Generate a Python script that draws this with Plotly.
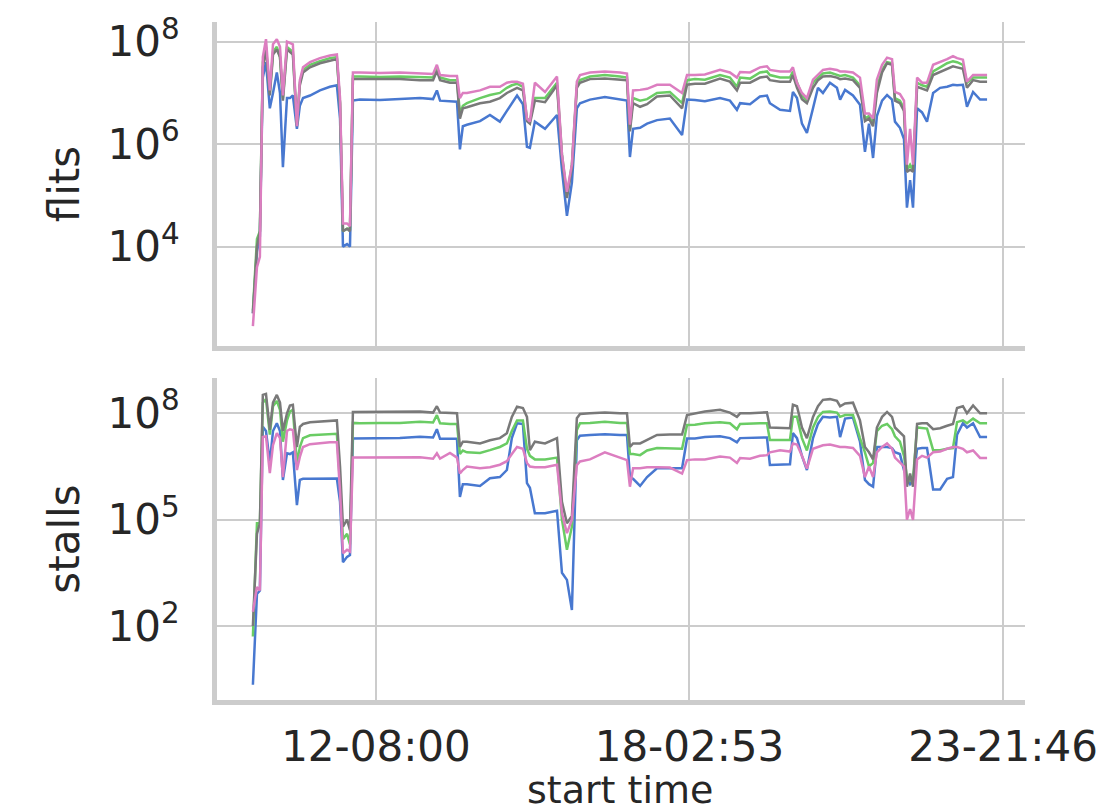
import pandas as pd
import plotly.graph_objects as go

# time axis: hours relative to 12-08:00
base_time = "2021-03-12 08:00"
hours = [-54.5, -52.7, -51.4, -50.1, -48.7, -47.0, -45.6, -43.9, -42.5, -41.2,
         -39.4, -38.1, -36.8, -35.0, -33.7, -32.3, -29.2, -24.8, -20.4, -17.3,
         -15.9, -14.6, -12.8, -11.5, -10.2, -7.1, 1.8, 10.6, 19.5, 25.3,
         27.0, 28.4, 32.8, 35.9, 37.2, 38.5, 40.3, 46.1, 50.5, 54.9,
         58.0, 60.2, 62.5, 65.1, 66.9, 68.2, 70.4, 74.9, 80.2, 82.4,
         84.6, 86.8, 89.0, 90.4, 94.8, 101.4, 108.1, 111.2, 112.5, 113.9,
         117.0, 120.1, 124.5, 130.2, 135.6, 137.8, 141.3, 145.7, 152.4, 156.8,
         159.9, 161.3, 165.7, 170.1, 173.2, 174.5, 179.0, 183.4, 184.7, 186.5,
         188.7, 190.9, 193.6, 195.8, 198.0, 201.1, 204.2, 205.6, 207.8, 211.3,
         214.4, 216.6, 218.4, 220.2, 221.9, 224.2, 226.4, 228.6, 229.9, 232.1,
         233.9, 235.2, 236.6, 237.9, 239.7, 241.9, 244.1, 246.8, 249.9, 253.0,
         255.6, 257.4, 260.0, 261.8, 264.5, 267.6, 270.7]

# values, stored as log10
flits_blue_log10 = [2.7, 3.9, 4.2, 7.3, 7.6, 6.7, 7.0, 7.4, 7.0, 5.55,
                    6.9, 6.9, 6.95, 6.3, 6.75, 6.9, 6.95, 7.05, 7.12, 7.15,
                    6.5, 4.0, 4.05, 4.0, 6.85, 6.87, 6.86, 6.88, 6.9, 6.88,
                    7.05, 6.85, 6.83, 6.83, 5.9, 6.35, 6.38, 6.45, 6.57, 6.44,
                    6.65, 6.8, 6.95, 6.78, 5.95, 5.93, 6.44, 6.3, 6.57, 5.5,
                    4.6, 5.25, 6.7, 6.8, 6.87, 6.92, 6.87, 6.85, 5.75, 6.3,
                    6.32, 6.4, 6.47, 6.5, 6.18, 6.87, 6.86, 6.84, 6.9, 6.85,
                    6.67, 6.8, 6.78, 6.93, 6.95, 6.8, 6.67, 6.65, 7.02, 6.9,
                    6.4, 6.22, 6.7, 7.1, 7.0, 7.2, 7.1, 6.87, 7.06, 6.95,
                    6.77, 5.85, 6.4, 5.73, 6.55, 6.85, 6.96, 6.87, 6.44, 6.32,
                    6.1, 4.76, 5.3, 4.76, 6.7, 6.62, 6.44, 7.0, 7.1, 7.12,
                    7.16, 7.15, 7.16, 6.73, 7.02, 6.87, 6.87]
flits_green_log10 = [2.75, 4.15, 4.3, 7.6, 7.9, 7.0, 7.8, 7.9, 7.7, 6.9,
                     7.9, 7.85, 7.8, 6.4, 7.2, 7.45, 7.55, 7.62, 7.68, 7.7,
                     6.8, 4.3, 4.35, 4.35, 7.32, 7.32, 7.31, 7.32, 7.3, 7.3,
                     7.48, 7.3, 7.25, 7.25, 6.6, 6.75, 6.8, 6.9, 6.96, 7.0,
                     7.1, 7.15, 7.18, 7.12, 6.5, 6.45, 6.9, 6.9, 7.2, 5.8,
                     5.0, 5.6, 7.15, 7.25, 7.32, 7.35, 7.32, 7.3, 6.3, 6.9,
                     6.85, 6.88, 7.0, 7.02, 6.8, 7.25, 7.27, 7.26, 7.35, 7.3,
                     7.12, 7.3, 7.28, 7.4, 7.42, 7.35, 7.3, 7.3, 7.42, 7.2,
                     6.95, 6.85, 7.2, 7.3, 7.38, 7.4, 7.36, 7.33, 7.35, 7.3,
                     7.15, 6.5, 6.55, 6.4, 7.1, 7.45, 7.6, 7.58, 6.9, 6.85,
                     6.7, 5.5, 5.6, 5.5, 7.2, 7.15, 7.12, 7.42, 7.5, 7.58,
                     7.62, 7.6, 7.55, 7.2, 7.3, 7.3, 7.3]
flits_gray_log10 = [2.7, 4.0, 4.3, 7.5, 7.85, 6.95, 7.75, 7.85, 7.7, 6.85,
                    7.85, 7.8, 7.75, 6.35, 7.15, 7.4, 7.5, 7.58, 7.63, 7.66,
                    6.8, 4.3, 4.35, 4.3, 7.27, 7.27, 7.26, 7.27, 7.25, 7.25,
                    7.43, 7.25, 7.2, 7.2, 6.5, 6.7, 6.72, 6.8, 6.83, 6.9,
                    7.0, 7.05, 7.1, 7.05, 6.45, 6.4, 6.85, 6.82, 7.15, 5.75,
                    4.95, 5.55, 7.1, 7.2, 7.27, 7.28, 7.26, 7.25, 6.25, 6.8,
                    6.73, 6.78, 6.93, 6.95, 6.7, 7.16, 7.18, 7.18, 7.28, 7.22,
                    7.05, 7.2, 7.2, 7.3, 7.32, 7.25, 7.22, 7.22, 7.35, 7.1,
                    6.88, 6.8, 7.1, 7.25, 7.32, 7.33, 7.3, 7.27, 7.28, 7.25,
                    7.1, 6.45, 6.5, 6.35, 7.0, 7.4, 7.58, 7.55, 6.85, 6.8,
                    6.65, 5.46, 5.5, 5.46, 7.12, 7.08, 7.05, 7.35, 7.41, 7.48,
                    7.52, 7.5, 7.47, 7.1, 7.25, 7.22, 7.22]
flits_pink_log10 = [2.45, 3.6, 3.8, 7.7, 8.05, 7.05, 7.95, 8.05, 7.9, 6.95,
                    8.0, 7.98, 7.95, 6.35, 7.25, 7.5, 7.6, 7.68, 7.73, 7.75,
                    6.9, 4.45, 4.45, 4.4, 7.4, 7.4, 7.39, 7.4, 7.38, 7.37,
                    7.55, 7.35, 7.33, 7.33, 6.9, 7.0, 7.0, 7.05, 7.12, 7.12,
                    7.2, 7.22, 7.22, 7.18, 6.5, 6.44, 7.2, 7.02, 7.32, 5.8,
                    5.07, 5.6, 7.22, 7.35, 7.4, 7.42, 7.4, 7.38, 6.38, 7.05,
                    7.06, 7.08, 7.16, 7.16, 7.0, 7.35, 7.35, 7.36, 7.45, 7.4,
                    7.3, 7.41, 7.4, 7.5, 7.52, 7.45, 7.42, 7.42, 7.5, 7.2,
                    7.0, 6.9, 7.26, 7.35, 7.45, 7.47, 7.45, 7.42, 7.42, 7.4,
                    7.3, 6.6, 6.6, 6.5, 7.26, 7.55, 7.69, 7.66, 7.02, 6.98,
                    6.85, 5.6, 6.3, 5.6, 7.3, 7.2, 7.2, 7.55, 7.6, 7.66,
                    7.72, 7.68, 7.65, 7.22, 7.35, 7.35, 7.35]

stalls_blue_log10 = [0.34, 2.9, 3.0, 7.62, 7.5, 6.6, 7.5, 7.72, 7.5, 6.12,
                     6.87, 6.85, 6.9, 5.41, 6.12, 6.15, 6.15, 6.16, 6.16, 6.16,
                     5.5, 3.8, 3.95, 4.0, 7.29, 7.29, 7.3, 7.3, 7.34, 7.32,
                     7.55, 7.28, 7.28, 7.28, 5.64, 6.0, 6.0, 5.95, 6.17, 6.2,
                     6.4, 7.3, 7.72, 7.7, 6.03, 5.9, 5.18, 5.18, 5.25, 3.5,
                     3.3, 2.45, 7.24, 7.37, 7.39, 7.41, 7.39, 7.39, 6.2, 6.15,
                     5.95, 6.2, 6.45, 6.46, 6.45, 7.29, 7.29, 7.33, 7.35, 7.3,
                     7.18, 7.3, 7.3, 7.32, 7.32, 6.54, 6.55, 6.56, 7.44, 7.3,
                     6.8, 6.4, 7.3, 7.7, 7.9, 7.88, 7.9, 7.33, 7.85, 7.88,
                     7.2, 6.12, 6.0, 5.93, 7.05, 7.05, 7.05, 7.02, 6.9, 6.85,
                     6.4, 6.2, 6.0, 6.1, 7.0, 7.02, 7.02, 5.85, 5.85, 6.15,
                     6.2, 7.4, 7.72, 7.6, 7.72, 7.33, 7.33]
stalls_green_log10 = [1.7, 4.9, 4.9, 8.3, 8.4, 7.4, 8.2, 8.35, 8.1, 7.2,
                      7.8, 8.05, 8.1, 6.6, 7.05, 7.3, 7.38, 7.4, 7.42, 7.42,
                      6.0, 4.45, 4.6, 4.3, 7.73, 7.72, 7.73, 7.73, 7.76, 7.74,
                      7.95, 7.72, 7.7, 7.7, 6.85, 6.95, 6.9, 6.88, 6.96, 7.05,
                      7.15, 7.5, 7.8, 7.8, 7.0, 6.8, 6.7, 6.7, 6.75, 5.0,
                      4.15, 4.8, 7.53, 7.72, 7.73, 7.76, 7.73, 7.73, 6.85, 6.85,
                      6.82, 6.95, 7.02, 7.02, 7.0, 7.67, 7.68, 7.72, 7.75, 7.72,
                      7.55, 7.7, 7.72, 7.72, 7.72, 7.25, 7.25, 7.25, 7.9, 7.9,
                      7.3, 6.95, 7.6, 7.9, 8.04, 8.05, 8.02, 7.9, 7.95, 7.95,
                      7.3, 6.9, 6.5, 6.6, 7.5, 7.65, 7.7, 7.55, 7.35, 7.2,
                      6.8, 6.2, 6.1, 6.15, 7.6, 7.58, 7.57, 6.96, 6.96, 7.0,
                      7.02, 7.75, 7.8, 7.72, 7.85, 7.72, 7.72]
stalls_gray_log10 = [2.0, 4.6, 4.9, 8.52, 8.55, 7.53, 8.3, 8.52, 8.3, 7.5,
                     8.0, 8.22, 8.24, 7.05, 7.62, 7.7, 7.75, 7.77, 7.8, 7.8,
                     6.5, 4.8, 5.0, 4.7, 8.04, 8.04, 8.04, 8.03, 8.05, 8.02,
                     8.2, 8.02, 8.0, 8.0, 7.05, 7.2, 7.2, 7.15, 7.24, 7.3,
                     7.44, 7.9, 8.19, 8.15, 7.9, 6.96, 7.2, 7.15, 7.3, 5.5,
                     4.9, 5.1, 7.86, 7.98, 8.0, 8.02, 8.0, 8.0, 7.05, 7.15,
                     7.15, 7.25, 7.39, 7.4, 7.4, 7.95, 8.0, 8.05, 8.1, 8.02,
                     7.9, 8.0, 8.0, 8.02, 8.03, 7.6, 7.58, 7.58, 8.24, 8.2,
                     7.6, 7.3, 7.9, 8.2, 8.38, 8.4, 8.35, 8.2, 8.28, 8.3,
                     7.8, 7.05, 6.9, 6.7, 7.6, 7.9, 8.04, 7.9, 7.6, 7.45,
                     7.35, 5.93, 6.3, 5.93, 7.7, 7.72, 7.72, 7.55, 7.58, 7.65,
                     7.7, 8.15, 8.2, 8.0, 8.22, 8.0, 8.0]
stalls_pink_log10 = [2.4, 3.1, 3.0, 7.33, 7.35, 6.31, 7.1, 7.44, 7.3, 6.2,
                     7.5, 7.55, 7.53, 6.4, 6.77, 7.05, 7.13, 7.16, 7.18, 7.18,
                     5.8, 4.05, 4.15, 4.1, 6.75, 6.75, 6.76, 6.75, 6.76, 6.72,
                     6.87, 6.72, 6.88, 6.75, 6.3, 6.4, 6.5, 6.45, 6.48, 6.55,
                     6.65, 6.85, 7.05, 7.0, 6.6, 6.5, 6.48, 6.48, 6.55, 5.18,
                     4.62, 5.0, 6.54, 6.64, 6.7, 6.9, 6.75, 6.68, 5.93, 6.45,
                     6.45, 6.48, 6.48, 6.47, 6.3, 6.68, 6.7, 6.7, 6.78, 6.75,
                     6.6, 6.74, 6.72, 6.8, 6.82, 6.9, 6.96, 6.92, 7.15, 7.12,
                     6.8, 6.44, 7.0, 7.05, 7.1, 7.12, 7.08, 7.05, 7.05, 7.02,
                     6.8, 6.2, 6.5, 6.2, 6.9, 7.05, 7.15, 7.0, 6.75, 6.6,
                     6.5, 5.0, 5.3, 4.99, 6.7, 6.8, 6.75, 6.9, 6.92, 7.0,
                     7.05, 7.05, 7.0, 6.9, 6.95, 6.74, 6.74]

x_tick_times = ["2021-03-12 08:00", "2021-03-18 02:53", "2021-03-23 21:46"]
x_tick_labels = ["12-08:00", "18-02:53", "23-21:46"]
flits_ticks = [1e4, 1e6, 1e8]
flits_tick_labels = ["10<sup>4</sup>", "10<sup>6</sup>", "10<sup>8</sup>"]
stalls_ticks = [1e2, 1e5, 1e8]
stalls_tick_labels = ["10<sup>2</sup>", "10<sup>5</sup>", "10<sup>8</sup>"]

series_names = ["blue", "green", "gray", "pink"]
colors = ["#4878d0", "#6acc64", "#797979", "#dc7ec0"]

t0 = pd.Timestamp(base_time)
times = [t0 + pd.Timedelta(hours=h) for h in hours]

fig = go.Figure()
flits = [flits_blue_log10, flits_green_log10, flits_gray_log10, flits_pink_log10]
stalls = [stalls_blue_log10, stalls_green_log10, stalls_gray_log10, stalls_pink_log10]
for name, col, vals in zip(series_names, colors, flits):
    fig.add_trace(go.Scatter(x=times, y=[10 ** v for v in vals], mode="lines",
                             line=dict(color=col, width=2.5), name=name,
                             showlegend=False, xaxis="x", yaxis="y"))
for name, col, vals in zip(series_names, colors, stalls):
    fig.add_trace(go.Scatter(x=times, y=[10 ** v for v in vals], mode="lines",
                             line=dict(color=col, width=2.5), name=name,
                             showlegend=False, xaxis="x2", yaxis="y2"))

font = dict(family="DejaVu Sans", size=42, color="#262626")
title_font = dict(family="DejaVu Sans", size=38, color="#262626")
xrange = [t0 + pd.Timedelta(hours=-70.4), t0 + pd.Timedelta(hours=287.5)]
grid = "#cccccc"
common_x = dict(type="date", range=xrange, tickvals=x_tick_times, ticktext=x_tick_labels,
                showgrid=True, gridcolor=grid, gridwidth=1.5, showline=True,
                linecolor=grid, linewidth=5, ticks="", zeroline=False, automargin=False)
common_y = dict(type="log", showgrid=True, gridcolor=grid, gridwidth=1.5, showline=True,
                linecolor=grid, linewidth=5, ticks="", zeroline=False, automargin=False,
                tickfont=font, ticklabelstandoff=24)

fig.update_layout(
    width=1106, height=804,
    margin=dict(l=217, r=81, t=22, b=104),
    paper_bgcolor="white", plot_bgcolor="white",
    font=font,
    xaxis=dict(common_x, anchor="y", domain=[0, 1], showticklabels=False),
    yaxis=dict(common_y, anchor="x", domain=[0.5221, 1], range=[2.06, 8.385],
               tickvals=flits_ticks, ticktext=flits_tick_labels,
               title=dict(text="flits", font=font, standoff=16)),
    xaxis2=dict(common_x, anchor="y2", domain=[0, 1], matches="x", tickfont=font,
                ticklabelstandoff=6),
    yaxis2=dict(common_y, anchor="x2", domain=[0, 0.4749], range=[-0.09, 8.996],
                tickvals=stalls_ticks, ticktext=stalls_tick_labels,
                title=dict(text="stalls", font=font, standoff=16)),
    annotations=[dict(text="start time", xref="paper", yref="paper",
                      x=0.4988, y=-0.0975, xanchor="center", yanchor="top",
                      showarrow=False, font=title_font)],
)

fig.write_html("out.html")
